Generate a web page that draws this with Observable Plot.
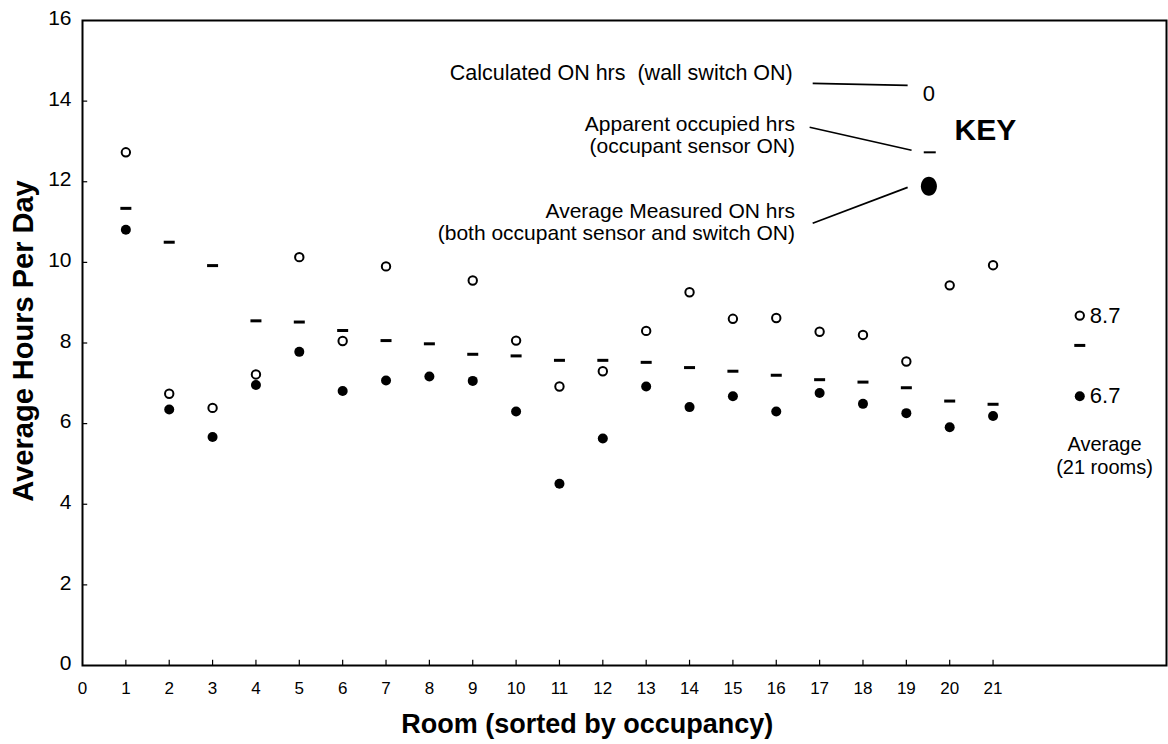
<!DOCTYPE html>
<html>
<head>
<meta charset="utf-8">
<script src="https://cdn.jsdelivr.net/npm/d3@7"></script>
<script src="https://cdn.jsdelivr.net/npm/@observablehq/plot@0.6"></script>
<style>
  html, body { margin: 0; padding: 0; background: #fff; }
  #chart svg { display: block; }
</style>
</head>
<body>
<div id="chart"></div>
<script>
// ---- Data ----
const rooms = [1, 2, 3, 4, 5, 6, 7, 8, 9, 10, 11, 12, 13, 14, 15, 16, 17, 18, 19, 20, 21];
// Calculated ON hrs (wall switch ON) — open circles
const calculatedHrs = [12.73, 6.74, 6.39, 7.22, 10.13, 8.05, 9.90, null, 9.55, 8.06, 6.92, 7.30, 8.30, 9.26, 8.60, 8.62, 8.28, 8.20, 7.54, 9.43, 9.93];
// Apparent occupied hrs (occupant sensor ON) — dashes
const apparentHrs = [11.34, 10.50, 9.92, 8.55, 8.52, 8.31, 8.06, 7.98, 7.72, 7.68, 7.57, 7.57, 7.52, 7.39, 7.30, 7.20, 7.09, 7.03, 6.89, 6.56, 6.48];
// Average Measured ON hrs (both occupant sensor and switch ON) — filled dots
const measuredHrs = [10.81, 6.35, 5.67, 6.96, 7.78, 6.81, 7.07, 7.17, 7.06, 6.30, 4.51, 5.63, 6.92, 6.41, 6.68, 6.30, 6.76, 6.49, 6.26, 5.91, 6.19];
// Average over 21 rooms
const averagePosition = [23];
const averageCalculated = [8.68];
const averageApparent = [7.94];
const averageMeasured = [6.68];

const xTicks = d3.range(0, 22);
const yTicks = [0, 2, 4, 6, 8, 10, 12, 14, 16];

const keyLabels = {
  calculated: "Calculated ON hrs  (wall switch ON)",
  apparent: ["Apparent occupied hrs", "(occupant sensor ON)"],
  measured: ["Average Measured ON hrs", "(both occupant sensor and switch ON)"],
  key: "KEY",
  zero: "0"
};
const xTitle = "Room (sorted by occupancy)";
const yTitle = "Average Hours Per Day";
const averageLabel = ["Average", "(21 rooms)"];

// ---- Build tables ----
const open = rooms.map((r, i) => ({x: r, y: calculatedHrs[i]})).filter(d => d.y != null)
  .concat(averagePosition.map((p, i) => ({x: p, y: averageCalculated[i]})));
const dash = rooms.map((r, i) => ({x: r, y: apparentHrs[i]}))
  .concat(averagePosition.map((p, i) => ({x: p, y: averageApparent[i]})));
const filled = rooms.map((r, i) => ({x: r, y: measuredHrs[i]}))
  .concat(averagePosition.map((p, i) => ({x: p, y: averageMeasured[i]})));
const avgValueLabels = [
  {x: averagePosition[0], y: averageCalculated[0]},
  {x: averagePosition[0], y: averageMeasured[0]}
];

const dashSymbol = {draw(ctx) { ctx.rect(-5.5, -1.5, 11, 3); }};
const keyDashSymbol = {draw(ctx) { ctx.rect(-6, -1, 12, 2); }};
const ellipseSymbol = {draw(ctx) {
  const rx = 8, ry = 9.5, k = 0.5523;
  ctx.moveTo(rx, 0);
  ctx.bezierCurveTo(rx, ry * k, rx * k, ry, 0, ry);
  ctx.bezierCurveTo(-rx * k, ry, -rx, ry * k, -rx, 0);
  ctx.bezierCurveTo(-rx, -ry * k, -rx * k, -ry, 0, -ry);
  ctx.bezierCurveTo(rx * k, -ry, rx, -ry * k, rx, 0);
  ctx.closePath();
}};

const font = "'Liberation Sans', Arial, Helvetica, sans-serif";

const chart = Plot.plot({
  width: 1168,
  height: 744,
  marginTop: 20,
  marginLeft: 82,
  marginRight: 2,
  marginBottom: 79,
  style: {fontFamily: font, color: "black", background: "white", overflow: "visible"},
  x: {domain: [0, 25], axis: null},
  y: {domain: [0, 16], axis: null},
  marks: [
    Plot.frame({stroke: "black", strokeWidth: 2}),
    // inward tick marks
    Plot.ruleY(yTicks.slice(1, -1), {x1: 0, x2: 0.12, stroke: "black", strokeWidth: 1.2}),
    Plot.ruleX(xTicks.slice(1), {y1: 0, y2: 0.13, stroke: "black", strokeWidth: 1.2}),
    Plot.axisY(yTicks, {tickSize: 0, tickPadding: 11, fontSize: 21, label: null, dy: -2}),
    Plot.axisX(xTicks, {tickSize: 0, tickPadding: 16, fontSize: 17, label: null}),
    // axis titles
    Plot.text([yTitle], {x: -1.36, y: 8.05, text: d => d, rotate: -90, fontSize: 29, fontWeight: "bold"}),
    Plot.text([xTitle], {x: 7.35, y: -1.47, text: d => d, textAnchor: "start", fontSize: 27, fontWeight: "bold"}),
    // data
    Plot.dot(open, {x: "x", y: "y", r: 4.2, stroke: "black", strokeWidth: 2, fill: "white"}),
    Plot.dot(dash, {x: "x", y: "y", symbol: dashSymbol, fill: "black", stroke: "none"}),
    Plot.dot(filled, {x: "x", y: "y", r: 5, fill: "black", stroke: "none"}),
    // average labels
    Plot.text(avgValueLabels, {x: "x", y: "y", text: d => d3.format(".1f")(d.y), dx: 10, textAnchor: "start", fontSize: 22}),
    Plot.text([averageLabel[0]], {x: 23.57, y: 5.47, text: d => d, fontSize: 20}),
    Plot.text([averageLabel[1]], {x: 23.57, y: 4.91, text: d => d, fontSize: 20}),
    // key
    Plot.text([keyLabels.calculated], {x: 16.38, y: 14.69, text: d => d, textAnchor: "end", fontSize: 21.5}),
    Plot.text([keyLabels.apparent[0]], {x: 16.43, y: 13.43, text: d => d, textAnchor: "end", fontSize: 21}),
    Plot.text([keyLabels.apparent[1]], {x: 16.43, y: 12.87, text: d => d, textAnchor: "end", fontSize: 21}),
    Plot.text([keyLabels.measured[0]], {x: 16.43, y: 11.27, text: d => d, textAnchor: "end", fontSize: 21}),
    Plot.text([keyLabels.measured[1]], {x: 16.43, y: 10.71, text: d => d, textAnchor: "end", fontSize: 21}),
    Plot.link([0], {x1: 16.84, y1: 14.44, x2: 19.03, y2: 14.39, stroke: "black", strokeWidth: 1.6}),
    Plot.link([0], {x1: 16.77, y1: 13.35, x2: 19.12, y2: 12.78, stroke: "black", strokeWidth: 1.6}),
    Plot.link([0], {x1: 16.84, y1: 10.97, x2: 19.03, y2: 11.86, stroke: "black", strokeWidth: 1.8}),
    Plot.text([keyLabels.zero], {x: 19.52, y: 14.19, text: d => d, fontSize: 22}),
    Plot.dot([0], {x: 19.54, y: 12.73, symbol: keyDashSymbol, fill: "black", stroke: "none"}),
    Plot.dot([0], {x: 19.52, y: 11.89, symbol: ellipseSymbol, fill: "black", stroke: "none"}),
    Plot.text([keyLabels.key], {x: 20.11, y: 13.28, text: d => d, textAnchor: "start", fontSize: 30, fontWeight: "bold"})
  ]
});

document.getElementById("chart").appendChild(chart);
</script>
</body>
</html>
